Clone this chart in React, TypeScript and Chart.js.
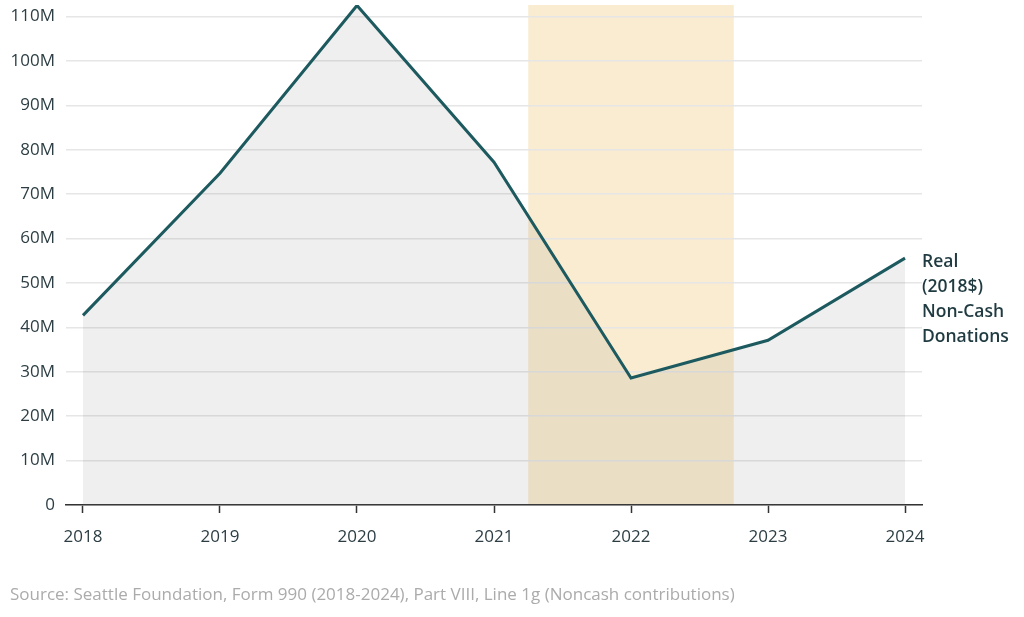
import React, { useEffect, useRef } from "react";
import { Chart, registerables } from "chart.js";

Chart.register(...registerables);

const years = [2018, 2019, 2020, 2021, 2022, 2023, 2024];
const donations = [42.7, 74.7, 112.5, 77.2, 28.6, 37.1, 55.6];
const yTicks = [0, 10, 20, 30, 40, 50, 60, 70, 80, 90, 100, 110];
const bandRange = [2021.25, 2022.75];
const seriesLabel = ["Real", "(2018$)", "Non-Cash", "Donations"];
const sourceText =
  "Source: Seattle Foundation, Form 990 (2018-2024), Part VIII, Line 1g (Noncash contributions)";

const FONT = "'Open Sans', Lato, sans-serif";

export default function App() {
  const ref = useRef<HTMLCanvasElement | null>(null);

  useEffect(() => {
    document.body.style.margin = "0";
    const canvas = ref.current;
    if (!canvas) return;

    const bandPlugin = {
      id: "band",
      beforeDraw(chart: any) {
        const { ctx, chartArea, scales } = chart;
        const x0 = scales.x.getPixelForValue(bandRange[0]);
        const x1 = scales.x.getPixelForValue(bandRange[1]);
        ctx.save();
        ctx.fillStyle = "#faecd0";
        ctx.fillRect(x0, chartArea.top, x1 - x0, chartArea.bottom - chartArea.top);
        ctx.restore();
      },
      afterDraw(chart: any) {
        const { ctx, chartArea, scales } = chart;
        const lastY = scales.y.getPixelForValue(donations[donations.length - 1]);
        ctx.save();
        ctx.font = `600 17.5px ${FONT}`;
        ctx.fillStyle = "#1f3a40";
        ctx.textAlign = "left";
        ctx.textBaseline = "middle";
        seriesLabel.forEach((t, i) => {
          ctx.fillText(t, chartArea.right, lastY + 4 + i * 25);
        });
        ctx.font = `17px ${FONT}`;
        ctx.fillStyle = "#ababab";
        ctx.fillText(sourceText, 10, 595);
        ctx.restore();
      },
    };

    const chart = new Chart(canvas, {
      type: "line",
      data: {
        datasets: [
          {
            data: years.map((y, i) => ({ x: y, y: donations[i] })),
            borderColor: "#1d5a5f",
            borderWidth: 3,
            backgroundColor: "rgba(110,110,110,0.11)",
            fill: "origin",
            pointRadius: 0,
            tension: 0,
          },
        ],
      },
      options: {
        animation: false,
        responsive: false,
        maintainAspectRatio: false,
        layout: { padding: { top: 5, right: 102, left: 0, bottom: 0 } },
        plugins: { legend: { display: false }, tooltip: { enabled: false } },
        scales: {
          x: {
            type: "linear",
            min: 2017.876,
            max: 2024.124,
            afterBuildTicks: (s: any) => {
              s.ticks = years.map((v) => ({ value: v }));
            },
            afterFit: (s: any) => {
              s.height = 112;
              s.paddingLeft = 0;
              s.paddingRight = 0;
            },
            grid: {
              drawOnChartArea: false,
              drawTicks: true,
              tickLength: 8,
              tickColor: "#333333",
              tickWidth: 1.5,
            },
            border: { display: true, color: "#333333", width: 1.5 },
            ticks: {
              padding: 14,
              color: "#2c3e44",
              font: { family: FONT, size: 17 },
              callback: (v: any) => String(v),
              maxRotation: 0,
            },
          },
          y: {
            min: 0,
            max: 112.6,
            afterBuildTicks: (s: any) => {
              s.ticks = yTicks.map((v) => ({ value: v }));
            },
            afterFit: (s: any) => {
              s.width = 66;
              s.paddingTop = 0;
              s.paddingBottom = 0;
            },
            grid: {
              color: "#e6e6e6",
              lineWidth: 1.5,
              drawTicks: false,
            },
            border: { display: false },
            ticks: {
              padding: 11,
              color: "#2c3e44",
              font: { family: FONT, size: 17 },
              callback: (v: any) => (v === 0 ? "0" : `${v}M`),
            },
          },
        },
      },
      plugins: [bandPlugin],
    });

    return () => chart.destroy();
  }, []);

  return (
    <div style={{ width: 1024, height: 617 }}>
      <canvas ref={ref} width={1024} height={617} style={{ display: "block" }} />
    </div>
  );
}
